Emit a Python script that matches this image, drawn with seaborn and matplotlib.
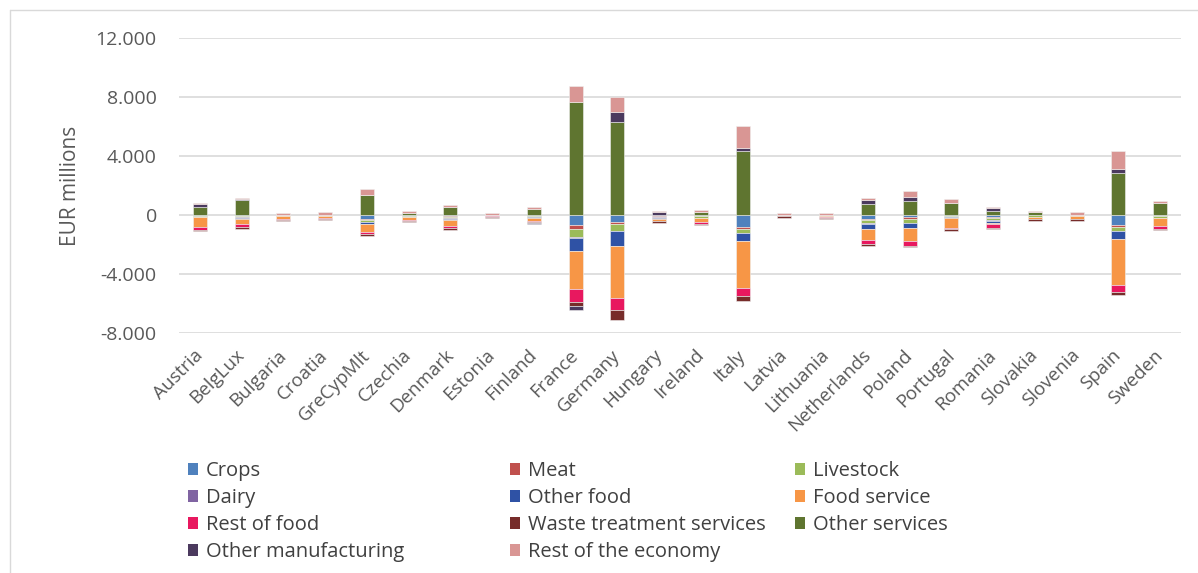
import numpy as np
import pandas as pd
import seaborn as sns
import matplotlib.pyplot as plt
from matplotlib.lines import Line2D
from matplotlib.patches import Patch

sns.set_style("white")
plt.rcParams['font.family'] = ['Open Sans', 'DejaVu Sans']

# Countries (x categories)
countries = ["Austria", "BelgLux", "Bulgaria", "Croatia", "GreCypMlt", "Czechia",
             "Denmark", "Estonia", "Finland", "France", "Germany", "Hungary",
             "Ireland", "Italy", "Latvia", "Lithuania", "Netherlands", "Poland",
             "Portugal", "Romania", "Slovakia", "Slovenia", "Spain", "Sweden"]

# EUR millions, one list per sector
crops = [-30, -70, -20, -20, -275, -30, -60, 0, -60, -690, -460, -80,
         -30, -800, 0, 0, -275, -160, -30, -160, -20, -20, -690, -30]
meat = [0, -20, 0, 0, -30, 0, -80, -60, -20, -230, -115, -20,
        -60, -160, -50, -20, -60, -115, -20, -60, 0, 0, -115, 0]
livestock = [-80, -70, -40, -30, -160, -90, -30, 0, -30, -550, -500, -40,
             -100, -250, 0, -20, -230, -230, -90, -115, -90, -30, -276, -160]
dairy = [-10, -10, 0, 0, -20, -10, -60, 0, -20, -90, -30, -30,
         -10, -30, 0, 0, -40, -40, -10, -60, 0, 0, -30, -10]
other_food = [-20, -90, -10, -10, -140, -20, -90, 0, -70, -900, -960, -70,
              -20, -500, 0, 0, -345, -345, -20, -160, -10, -10, -530, -20]
food_service = [-650, -350, -200, -160, -506, -200, -400, -20, -200, -2530, -3560, -150,
                -230, -3200, -20, -110, -760, -870, -710, -70, -140, -185, -3080, -530]
rest_food = [-200, -220, -40, -20, -160, -30, -170, -20, -40, -920, -830, -30,
             -150, -530, -20, -20, -276, -345, -30, -230, -20, -20, -530, -207]
waste = [-100, -120, -60, -90, -140, -120, -100, -100, -80, -280, -670, -90,
         -80, -390, -110, -80, -115, -90, -160, -115, -90, -115, -160, -70]
other_services = [560, 1060, 40, 30, 1335, 140, 530, 0, 414, 7650, 6320, 40,
                  230, 4320, 20, 20, 760, 940, 805, 300, 185, 40, 2830, 805]
other_manuf = [180, 20, 0, 0, 30, 20, 30, 0, -80, -250, 690, 150,
               0, 230, 0, 0, 300, 276, 20, 160, 0, 0, 276, 20]
rest_economy = [90, 115, 130, 150, 390, 115, 160, 160, 115, 1080, 1035, 110,
                110, 1500, 110, 110, 115, 390, 300, 115, 115, 140, 1220, 140]

sectors = ["Crops", "Meat", "Livestock", "Dairy", "Other food", "Food service",
           "Rest of food", "Waste treatment services", "Other services",
           "Other manufacturing", "Rest of the economy"]
values = [crops, meat, livestock, dairy, other_food, food_service,
          rest_food, waste, other_services, other_manuf, rest_economy]
colors = ["#4F81BD", "#C0504D", "#9BBB59", "#8064A2", "#2F52A5", "#F79646",
          "#E8185F", "#772C2A", "#5F7530", "#4B3A5E", "#D99694"]

fig = plt.figure(figsize=(11.98, 5.73), dpi=100)
ax = fig.add_axes([179 / 1198, 1 - 333 / 573, 1002 / 1198, (333 - 38.3) / 573])

pos_bottom = np.zeros(len(countries))
neg_bottom = np.zeros(len(countries))
for name, vals, col in zip(sectors, values, colors):
    v = np.array(vals, dtype=float)
    bottom = np.where(v >= 0, pos_bottom, neg_bottom)
    df = pd.DataFrame({"country": countries, "value": v})
    sns.barplot(data=df, x="country", y="value", order=countries, bottom=bottom,
                color=col, saturation=1, width=0.34, errorbar=None,
                edgecolor="#f0f0f0", linewidth=0.4, ax=ax)
    pos_bottom = pos_bottom + np.where(v > 0, v, 0)
    neg_bottom = neg_bottom + np.where(v < 0, v, 0)

ax.set_ylim(-8000, 12000)
ax.set_xlim(-0.5, len(countries) - 0.5)
ax.set_yticks([-8000, -4000, 0, 4000, 8000, 12000])
ax.set_yticklabels(["-8.000", "-4.000", "0", "4.000", "8.000", "12.000"])
ax.grid(axis="y", color="#d9d9d9", linewidth=1.2)
ax.set_axisbelow(True)
for s in ax.spines.values():
    s.set_visible(False)
ax.tick_params(axis="y", length=0, pad=16, labelsize=14, labelcolor="#595959")
ax.tick_params(axis="x", length=0, pad=14, labelsize=13.5, labelcolor="#595959")
for lab in ax.get_xticklabels():
    lab.set_rotation(45)
    lab.set_ha("right")
    lab.set_va("center")
    lab.set_rotation_mode("anchor")
ax.set_xlabel("")
ax.set_ylabel("")
fig.text(70 / 1198, 1 - 186 / 573, "EUR millions", rotation=90, ha="center",
         va="center", fontsize=15, color="#595959")

# legend: three columns placed by hand
cols = [[0, 3, 6, 9], [1, 4, 7, 10], [2, 5, 8]]
xs = [188, 510, 795]
for xpos, idx in zip(xs, cols):
    handles = [Patch(facecolor=colors[i], edgecolor="none") for i in idx]
    labels = [sectors[i] for i in idx]
    leg = fig.legend(handles, labels, loc="upper left",
                     bbox_to_anchor=(xpos / 1198, 1 - 461 / 573),
                     frameon=False, fontsize=14.5, handlelength=0.5,
                     handleheight=0.6, handletextpad=0.4, labelspacing=0.35,
                     borderaxespad=0, borderpad=0)
    for t in leg.get_texts():
        t.set_color("#404040")

# chart border
fig.add_artist(Line2D([10 / 1198, 1], [1 - 10 / 573, 1 - 10 / 573],
                      transform=fig.transFigure, color="#d9d9d9", linewidth=1))
fig.add_artist(Line2D([10 / 1198, 10 / 1198], [0, 1 - 10 / 573],
                      transform=fig.transFigure, color="#d9d9d9", linewidth=1))

plt.savefig("out.png", dpi=100)
